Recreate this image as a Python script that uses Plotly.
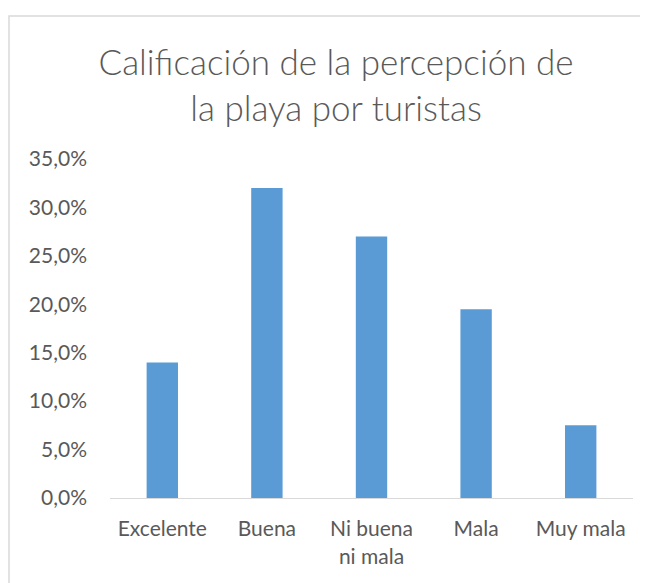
import plotly.graph_objects as go

categorias = ["Excelente", "Buena", "Ni buena<br>ni mala", "Mala", "Muy mala"]
porcentajes = [0.14, 0.32, 0.27, 0.195, 0.075]
y_ticks = [0, 0.05, 0.10, 0.15, 0.20, 0.25, 0.30, 0.35]

fig = go.Figure()
fig.add_trace(go.Bar(
    x=categorias,
    y=porcentajes,
    marker=dict(color="#5B9BD5", line=dict(width=0)),
    width=0.3,
))

# the page has an 8px body margin, so positions are shifted back by 8
off = 8
W, H = 648, 583
ml, mr, mt, mb = 110 - off, W - 633 + off, 159 - off, H - 498 + off
pw, ph = W - ml - mr, H - mt - mb

fig.update_layout(
    width=W, height=H,
    margin=dict(l=ml, r=mr, t=mt, b=mb),
    paper_bgcolor="white",
    plot_bgcolor="white",
    separators=",.",
    font=dict(family="Lato, Open Sans, sans-serif", color="#595959"),
    title=dict(
        text="Calificación de la percepción de<br>la playa por turistas",
        x=(336 - off) / W, xanchor="center", y=1 - (75 - off) / H, yanchor="middle",
        font=dict(size=35, color="#595959", weight=300),
    ),
    showlegend=False,
    xaxis=dict(
        showline=True, linecolor="#D9D9D9", linewidth=1,
        showgrid=False, ticks="", tickfont=dict(size=21),
        ticklabelstandoff=12,
    ),
    yaxis=dict(
        range=[0, 0.35], tickvals=y_ticks, tickformat=".1%",
        showgrid=False, showline=False, zeroline=False, ticks="",
        tickfont=dict(size=21), ticklabelstandoff=22,
    ),
    shapes=[dict(
        type="rect", xref="paper", yref="paper",
        x0=(9 - 110) / pw, x1=(641 - 110) / pw,
        y0=(498 - 600) / ph, y1=(498 - 16) / ph,
        line=dict(color="#D9D9D9", width=1.5), layer="below",
    )],
)

fig.write_html("out.html")
